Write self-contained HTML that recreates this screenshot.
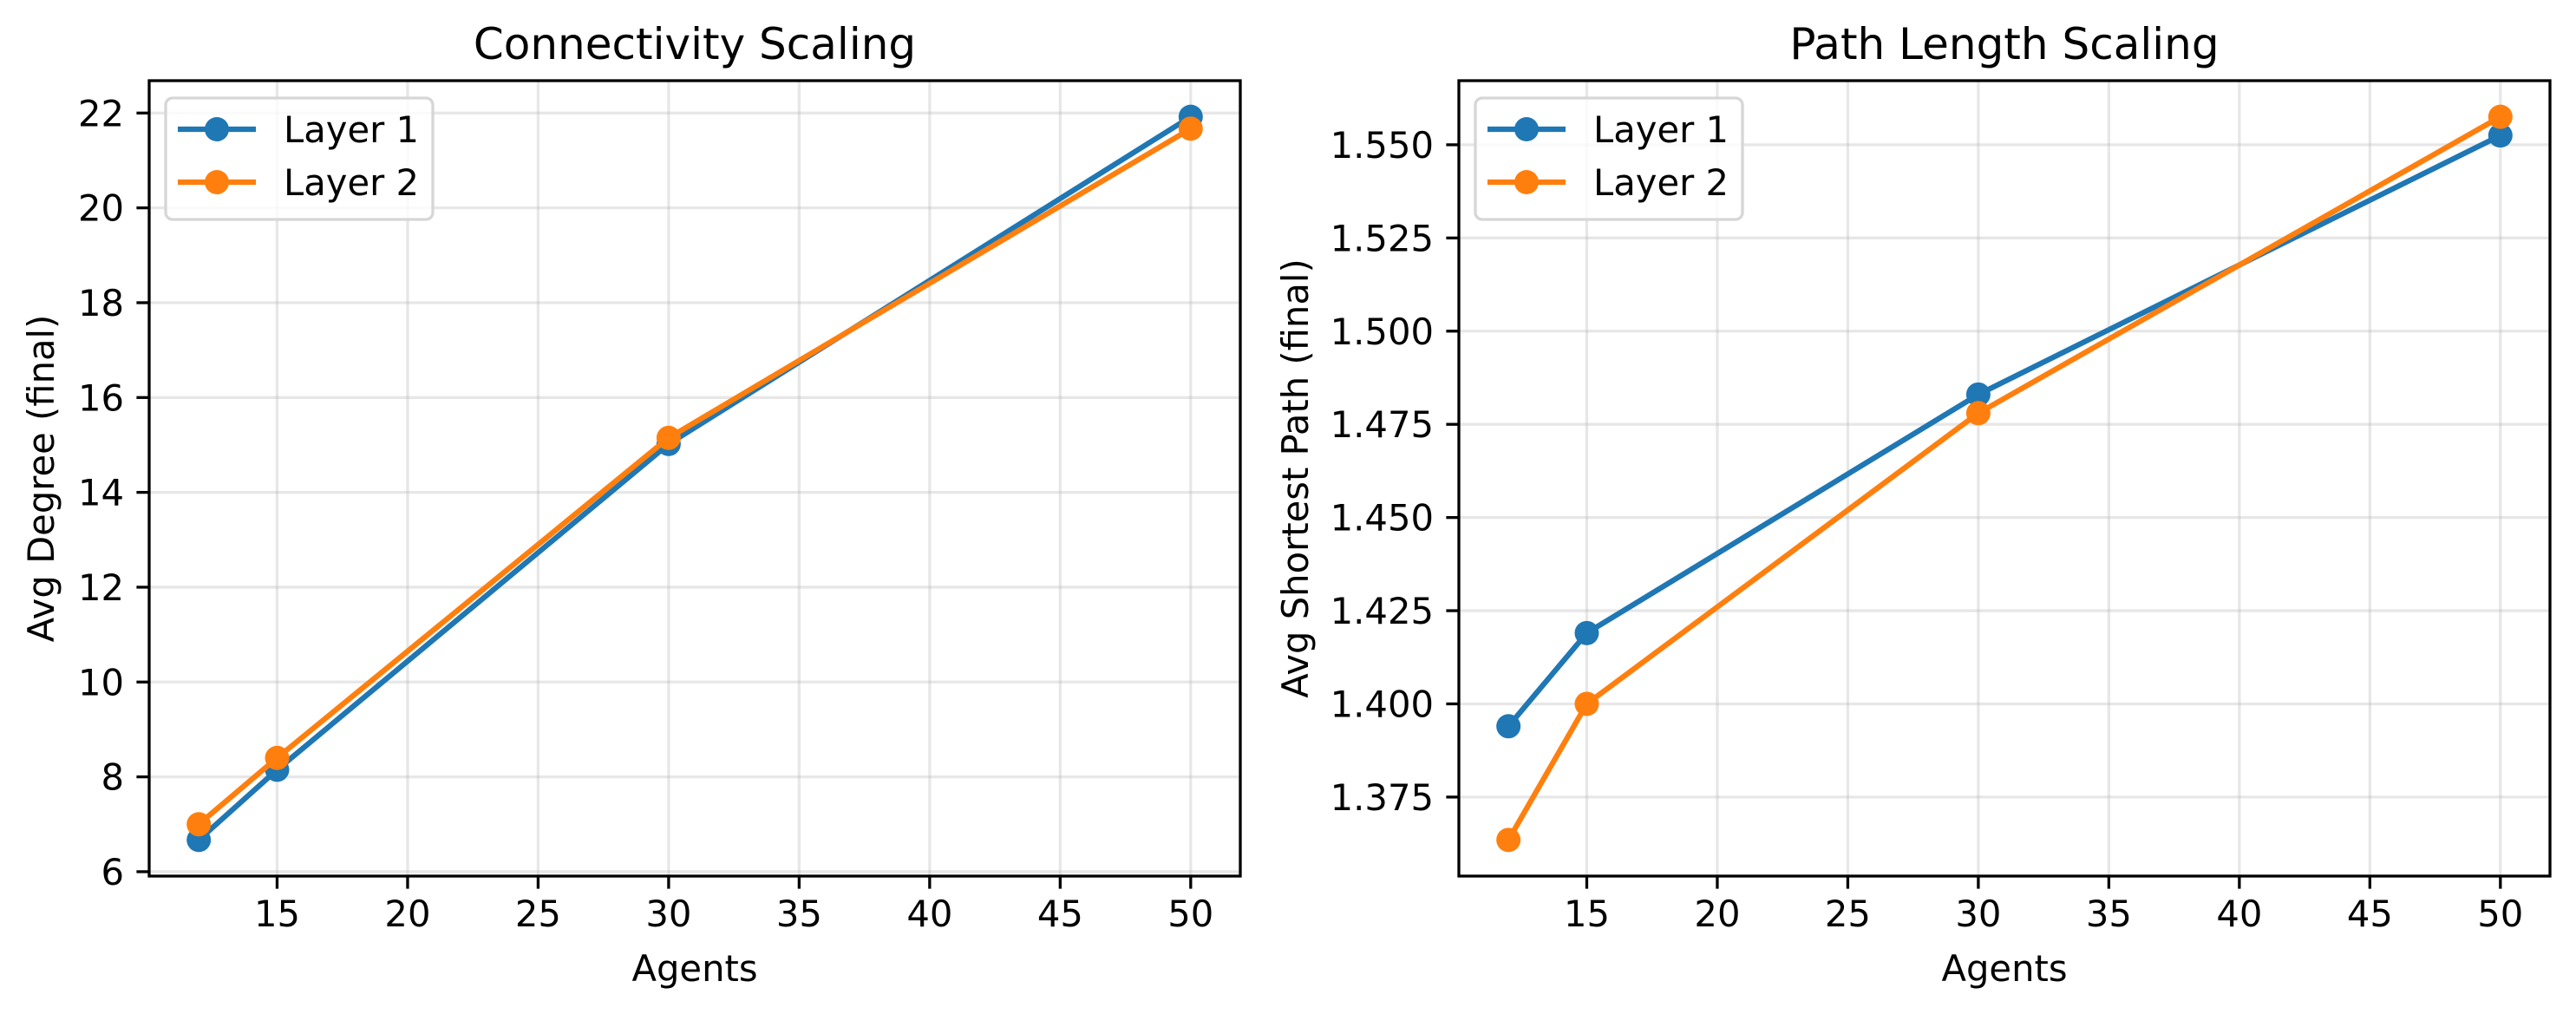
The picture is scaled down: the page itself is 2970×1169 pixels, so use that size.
<!DOCTYPE html>
<html><head><meta charset="utf-8"><style>
html,body{margin:0;padding:0;background:#fff;}
svg{display:block;font-family:"DejaVu Sans","Liberation Sans",sans-serif;}
</style></head><body>
<svg id="fig" width="2970" height="1169" viewBox="0 0 2970 1169" xmlns="http://www.w3.org/2000/svg"></svg>
<script>
const agents = [12, 15, 30, 50];
const degreeLayer1 = [6.67, 8.15, 15.02, 21.92];
const degreeLayer2 = [7.0, 8.4, 15.15, 21.67];
const pathLayer1 = [1.394, 1.419, 1.483, 1.5525];
const pathLayer2 = [1.3635, 1.400, 1.478, 1.5575];
const xTicks = [15, 20, 25, 30, 35, 40, 45, 50];
const degreeTicks = [6, 8, 10, 12, 14, 16, 18, 20, 22];
const pathTicks = [1.375, 1.400, 1.425, 1.450, 1.475, 1.500, 1.525, 1.550];
const seriesNames = ["Layer 1", "Layer 2"];
const colors = ["#1f77b4", "#ff7f0e"];

const NS = "http://www.w3.org/2000/svg";
const svg = document.getElementById("fig");
function mk(tag, attrs, parent, text) {
  const e = document.createElementNS(NS, tag);
  for (const k in attrs) e.setAttribute(k, attrs[k]);
  if (text !== undefined) e.textContent = text;
  (parent || svg).appendChild(e);
  return e;
}
function extent(arrs) {
  let lo = Infinity, hi = -Infinity;
  arrs.forEach(a => a.forEach(v => { lo = Math.min(lo, v); hi = Math.max(hi, v); }));
  const m = (hi - lo) * 0.05;
  return [lo - m, hi + m];
}
const MR = 14;

function panel(cfg) {
  const g = mk("g", {});
  
  
  const L = cfg.left, R = cfg.right, T = 93, B = 1010;
  const [x0, x1] = extent([agents]);
  const [y0, y1] = extent(cfg.series);
  const sx = v => L + (v - x0) / (x1 - x0) * (R - L);
  const sy = v => B - (v - y0) / (y1 - y0) * (B - T);
  xTicks.forEach(t => {
    const l = mk("line", {x1: sx(t), x2: sx(t), y1: T, y2: B, stroke: "#b0b0b0", "stroke-opacity": 0.3, "stroke-width": 3.3}, g);
    
    
  });
  cfg.ticks.forEach(t => {
    const l = mk("line", {x1: L, x2: R, y1: sy(t), y2: sy(t), stroke: "#b0b0b0", "stroke-opacity": 0.3, "stroke-width": 3.3}, g);
    
    
  });
  cfg.series.forEach((s, i) => {
    const pts = s.map((v, j) => sx(agents[j]) + "," + sy(v)).join(" ");
    const pl = mk("polyline", {points: pts, fill: "none", stroke: colors[i], "stroke-width": 6.25, "stroke-linejoin": "round", "stroke-linecap": "square"}, g);
    
    
    s.forEach((v, j) => {
      const c = mk("circle", {cx: sx(agents[j]), cy: sy(v), r: MR, fill: colors[i]}, g);
      
      
    });
  });
  const fr = mk("rect", {x: L, y: T, width: R - L, height: B - T, fill: "none", stroke: "#000", "stroke-width": 3.3}, g);
  
  
  xTicks.forEach(t => {
    mk("line", {x1: sx(t), x2: sx(t), y1: B, y2: B + 14.6, stroke: "#000", "stroke-width": 3.3}, g);
    const tx = mk("text", {x: sx(t), y: B + 58, "font-size": 41.7, "text-anchor": "middle", fill: "#000"}, g, String(t));
    
    
  });
  cfg.ticks.forEach(t => {
    mk("line", {x1: L - 14.6, x2: L, y1: sy(t), y2: sy(t), stroke: "#000", "stroke-width": 3.3}, g);
    const tx = mk("text", {x: L - 29, y: sy(t) + 15, "font-size": 41.7, "text-anchor": "end", fill: "#000"}, g, cfg.fmt(t));
    
    
  });
  const title = mk("text", {x: (L + R) / 2, y: 68, "font-size": 50, "text-anchor": "middle", fill: "#000"}, g, cfg.title);
  
  
  const xl = mk("text", {x: (L + R) / 2, y: 1131, "font-size": 41.7, "text-anchor": "middle", fill: "#000"}, g, "Agents");
  
  
  const yl = mk("text", {x: 0, y: 0, "font-size": 41.7, "text-anchor": "middle", fill: "#000", transform: `translate(${cfg.ylabelX},${(T + B) / 2}) rotate(-90)`}, g, cfg.ylabel);
  
  
  const lg = mk("g", {}, g);
  
  
  const lx = L + 19;
  mk("rect", {x: lx, y: 113, width: 308, height: 140, rx: 8, fill: "#fff", "fill-opacity": 0.8, stroke: "#d6d6d6", "stroke-width": 3.3}, lg);
  seriesNames.forEach((n, i) => {
    const yy = 149 + i * 61;
    const e = mk("g", {}, lg);
    
    
    mk("line", {x1: lx + 14, x2: lx + 104, y1: yy, y2: yy, stroke: colors[i], "stroke-width": 6.25}, e);
    mk("circle", {cx: lx + 59, cy: yy, r: MR, fill: colors[i]}, e);
    mk("text", {x: lx + 136, y: yy + 15, "font-size": 41.7, fill: "#000"}, e, n);
  });
}

panel({name: "connectivity-chart", left: 172, right: 1430, series: [degreeLayer1, degreeLayer2], ticks: degreeTicks,
  fmt: t => String(t), title: "Connectivity Scaling", ylabel: "Avg Degree (final)", ylabelX: 62});
panel({name: "path-length-chart", left: 1682, right: 2940, series: [pathLayer1, pathLayer2], ticks: pathTicks,
  fmt: t => t.toFixed(3), title: "Path Length Scaling", ylabel: "Avg Shortest Path (final)", ylabelX: 1508});
</script>
</body></html>
